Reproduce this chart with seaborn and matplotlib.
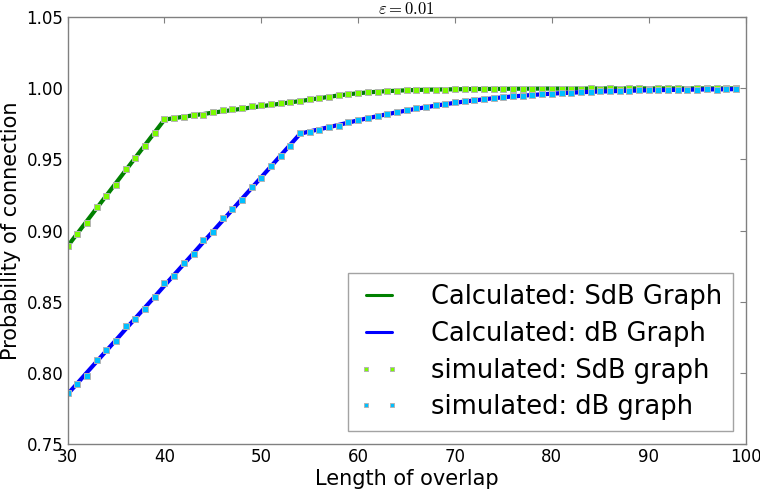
import matplotlib
matplotlib.use("Agg")
import matplotlib.pyplot as plt
import seaborn as sns
import pandas as pd

# Overlap lengths
overlap = list(range(30, 100))

# Calculated probability of connection
sdb_calc = [0.8890, 0.8979, 0.9068, 0.9157, 0.9246, 0.9335, 0.9424, 0.9513, 0.9602, 0.9691,
            0.9780, 0.9790, 0.9800, 0.9810, 0.9819, 0.9829, 0.9838, 0.9847, 0.9856, 0.9865,
            0.9874, 0.9883, 0.9892, 0.9901, 0.9910, 0.9920, 0.9930, 0.9940, 0.9950, 0.9958,
            0.9965, 0.9971, 0.9976, 0.9980, 0.9983, 0.9986, 0.9988, 0.9990, 0.9991, 0.9992,
            0.9993, 0.9994, 0.9995, 0.9995, 0.9996, 0.9996, 0.9997, 0.9997, 0.9997, 0.9998,
            0.9998, 0.9998, 0.9998, 0.9998, 0.9998, 0.9999, 0.9999, 0.9999, 0.9999, 0.9999,
            0.9999, 0.9999, 0.9999, 0.9999, 0.9999, 0.9999, 0.9999, 0.9999, 0.9999, 0.9999]
db_calc = [0.7850, 0.7926, 0.8003, 0.8079, 0.8155, 0.8231, 0.8308, 0.8384, 0.8460, 0.8536,
           0.8613, 0.8689, 0.8765, 0.8841, 0.8918, 0.8994, 0.9070, 0.9146, 0.9223, 0.9299,
           0.9375, 0.9451, 0.9528, 0.9604, 0.9680, 0.9697, 0.9712, 0.9727, 0.9743, 0.9759,
           0.9775, 0.9790, 0.9804, 0.9818, 0.9831, 0.9844, 0.9856, 0.9867, 0.9878, 0.9888,
           0.9898, 0.9907, 0.9915, 0.9923, 0.9930, 0.9937, 0.9943, 0.9948, 0.9953, 0.9958,
           0.9962, 0.9966, 0.9969, 0.9972, 0.9975, 0.9977, 0.9979, 0.9981, 0.9983, 0.9984,
           0.9986, 0.9987, 0.9988, 0.9989, 0.9990, 0.9991, 0.9992, 0.9992, 0.9993, 0.9994]

# Simulated probability of connection
sdb_sim = [0.8894, 0.8979, 0.9056, 0.9168, 0.9245, 0.9322, 0.9434, 0.9511, 0.9596, 0.9687,
           0.9781, 0.9792, 0.9800, 0.9810, 0.9815, 0.9834, 0.9848, 0.9856, 0.9862, 0.9872,
           0.9881, 0.9887, 0.9898, 0.9906, 0.9914, 0.9922, 0.9931, 0.9941, 0.9950, 0.9958,
           0.9964, 0.9972, 0.9976, 0.9979, 0.9984, 0.9986, 0.9987, 0.9990, 0.9991, 0.9991,
           0.9993, 0.9994, 0.9994, 0.9996, 0.9995, 0.9996, 0.9997, 0.9996, 0.9998, 0.9997,
           0.9998, 0.9998, 0.9997, 0.9998, 0.9999, 0.9998, 0.9999, 0.9998, 0.9999, 0.9999,
           0.9998, 0.9999, 0.9999, 0.9999, 0.9998, 0.9999, 0.9999, 0.9999, 0.9999, 0.9999]
db_sim = [0.7855, 0.7918, 0.7981, 0.8090, 0.8158, 0.8226, 0.8327, 0.8377, 0.8451, 0.8535,
          0.8631, 0.8682, 0.8773, 0.8836, 0.8937, 0.8991, 0.9085, 0.9152, 0.9215, 0.9308,
          0.9369, 0.9451, 0.9525, 0.9591, 0.9685, 0.9694, 0.9708, 0.9729, 0.9738, 0.9762,
          0.9780, 0.9792, 0.9808, 0.9818, 0.9834, 0.9846, 0.9860, 0.9869, 0.9881, 0.9888,
          0.9904, 0.9912, 0.9921, 0.9925, 0.9935, 0.9939, 0.9944, 0.9949, 0.9953, 0.9958,
          0.9961, 0.9967, 0.9968, 0.9973, 0.9974, 0.9978, 0.9978, 0.9982, 0.9982, 0.9985,
          0.9985, 0.9988, 0.9987, 0.9990, 0.9989, 0.9991, 0.9992, 0.9991, 0.9993, 0.9994]

labels = ["Calculated: SdB Graph", "Calculated: dB Graph",
          "simulated: SdB graph", "simulated: dB graph"]
x_ticks = [30, 40, 50, 60, 70, 80, 90, 100]
y_ticks = [0.75, 0.80, 0.85, 0.90, 0.95, 1.00, 1.05]

sns.set_style("white")
plt.rcParams["font.family"] = ["DejaVu Sans"]
plt.rcParams["mathtext.fontset"] = "cm"
for key in ("text.color", "axes.labelcolor", "xtick.color", "ytick.color"):
    plt.rcParams[key] = "black"

df = pd.DataFrame({"overlap": overlap, "sdb_calc": sdb_calc, "db_calc": db_calc,
                   "sdb_sim": sdb_sim, "db_sim": db_sim})

fig, ax = plt.subplots(figsize=(7.6, 4.9), dpi=100)
fig.subplots_adjust(left=0.089, right=0.981, bottom=0.094, top=0.965)

sns.lineplot(data=df, x="overlap", y="sdb_calc", ax=ax, color="#008000",
             linewidth=3, label=labels[0])
sns.lineplot(data=df, x="overlap", y="db_calc", ax=ax, color="#0000ff",
             linewidth=3, label=labels[1])
sns.lineplot(data=df, x="overlap", y="sdb_sim", ax=ax, color="#7cfc00",
             linestyle="", marker="s", markersize=4.8, markeredgecolor="0.7",
             markeredgewidth=0.7, label=labels[2])
sns.lineplot(data=df, x="overlap", y="db_sim", ax=ax, color="#00bfff",
             linestyle="", marker="s", markersize=4.8, markeredgecolor="0.7",
             markeredgewidth=0.7, label=labels[3])

ax.set_xlim(30, 100)
ax.set_ylim(0.75, 1.05)
ax.set_xticks(x_ticks)
ax.set_yticks(y_ticks)
ax.set_yticklabels([f"{v:.2f}" for v in y_ticks])
ax.tick_params(direction="in", length=4, width=0.8, color="0.5",
               top=True, right=True, labelsize=12, pad=3)
for s in ax.spines.values():
    s.set_color("0.5")
    s.set_linewidth(1.0)

ax.set_xlabel("Length of overlap", fontsize=15, labelpad=2)
ax.set_ylabel("Probability of connection", fontsize=15, labelpad=4)
ax.set_title(r"$\varepsilon = 0.01$", fontsize=12, pad=2)

leg = ax.legend(loc="lower right", fontsize=18.5, numpoints=2, markerscale=0.7,
                fancybox=False, frameon=True, borderaxespad=0.5,
                handlelength=1.6, handletextpad=1.2, labelspacing=0.42,
                borderpad=0.42)
leg.get_frame().set_edgecolor("0.55")
leg.get_frame().set_linewidth(1.0)
for h in leg.get_lines()[:2]:
    h.set_linewidth(2.2)

fig.savefig("out.png", dpi=100)
